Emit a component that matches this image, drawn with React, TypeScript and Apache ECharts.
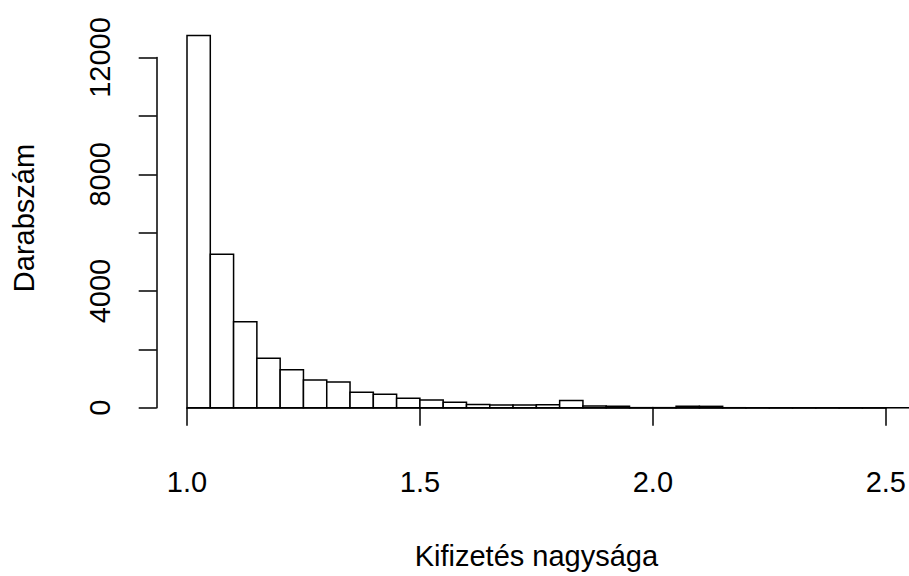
import React, { useEffect, useRef } from "react";
import * as echarts from "echarts";

// Histogram bin edges (left edge of each bin) and counts
const binLeft = [
  1.0, 1.05, 1.1, 1.15, 1.2, 1.25, 1.3, 1.35, 1.4, 1.45, 1.5, 1.55, 1.6, 1.65, 1.7, 1.75,
  1.8, 1.85, 1.9, 1.95, 2.0, 2.05, 2.1, 2.15, 2.2, 2.25, 2.3, 2.35, 2.4, 2.45, 2.5,
];
const binRight = [
  1.05, 1.1, 1.15, 1.2, 1.25, 1.3, 1.35, 1.4, 1.45, 1.5, 1.55, 1.6, 1.65, 1.7, 1.75, 1.8,
  1.85, 1.9, 1.95, 2.0, 2.05, 2.1, 2.15, 2.2, 2.25, 2.3, 2.35, 2.4, 2.45, 2.5, 2.55,
];
const counts = [
  12750, 5260, 2950, 1700, 1300, 950, 885, 530, 460, 325, 265, 190, 110, 100, 100, 105,
  250, 60, 55, 5, 5, 55, 50, 3, 2, 2, 1, 1, 1, 1, 1,
];
const xTicks = [1.0, 1.5, 2.0, 2.5];
const yTicks = [0, 2000, 4000, 6000, 8000, 10000, 12000];
const yLabelled = [0, 4000, 8000, 12000];

const xTitle = "Kifizetés nagysága";
const yTitle = "Darabszám";

const FONT = "'Liberation Sans', Arial, sans-serif";
const FS = 29;

export default function App() {
  const ref = useRef<HTMLDivElement>(null);
  useEffect(() => {
    if (!ref.current) return;
    const chart = echarts.init(ref.current, undefined, { renderer: "svg" });
    const data = counts.map((c, i) => [binLeft[i], binRight[i], c]);
    const option: any = {
      animation: false,
      backgroundColor: "#ffffff",
      grid: [
        { left: 187, top: 28.3, width: 723.33, height: 379.5 },
        { left: 187, top: 57.5, width: 700, height: 350.3 },
      ],
      xAxis: [
        { gridIndex: 0, type: "value", min: 1.0, max: 2.55, show: false },
        {
          gridIndex: 1,
          type: "value",
          min: xTicks[0],
          max: xTicks[xTicks.length - 1],
          interval: 0.5,
          offset: 17,
          axisLine: { show: true, lineStyle: { color: "#000", width: 1.5 } },
          axisTick: { show: true, length: 18, lineStyle: { color: "#000", width: 1.5 } },
          axisLabel: {
            margin: 43,
            color: "#000",
            fontFamily: FONT,
            fontSize: FS,
            formatter: (v: number) => v.toFixed(1),
          },
          splitLine: { show: false },
          name: xTitle,
          nameLocation: "middle",
          nameGap: 117,
          nameTextStyle: { color: "#000", fontFamily: FONT, fontSize: FS },
        },
      ],
      yAxis: [
        {
          gridIndex: 0,
          type: "value",
          min: 0,
          max: 13000,
          axisLine: { show: false },
          axisTick: { show: false },
          axisLabel: { show: false },
          splitLine: { show: false },
          name: yTitle,
          nameLocation: "middle",
          nameRotate: 90,
          nameGap: 149,
          nameTextStyle: { color: "#000", fontFamily: FONT, fontSize: FS },
        },
        {
          gridIndex: 1,
          type: "value",
          min: yTicks[0],
          max: yTicks[yTicks.length - 1],
          interval: 2000,
          offset: 30.3,
          axisLine: { show: true, lineStyle: { color: "#000", width: 1.5 } },
          axisTick: { show: true, length: 18, lineStyle: { color: "#000", width: 1.5 } },
          axisLabel: {
            margin: 42,
            rotate: 90,
            color: "#000",
            fontFamily: FONT,
            fontSize: FS,
            formatter: (v: number) => (yLabelled.indexOf(v) >= 0 ? String(v) : ""),
          },
          splitLine: { show: false },
        },
      ],
      series: [
        {
          type: "custom",
          xAxisIndex: 0,
          yAxisIndex: 0,
          clip: false,
          data,
          renderItem: (params: any, api: any) => {
            const x0 = api.value(0);
            const x1 = api.value(1);
            const c = api.value(2);
            const p0 = api.coord([x0, c]);
            const p1 = api.coord([x1, 0]);
            return {
              type: "rect",
              shape: { x: p0[0], y: p0[1], width: p1[0] - p0[0], height: p1[1] - p0[1] },
              style: { fill: "#ffffff", stroke: "#000000", lineWidth: 1.5 },
            };
          },
        },
      ],
    };
    chart.setOption(option);
    return () => chart.dispose();
  }, []);
  return (
    <div
      ref={ref}
      style={{ position: "absolute", left: 0, top: 0, width: 909, height: 576, background: "#fff" }}
    />
  );
}
